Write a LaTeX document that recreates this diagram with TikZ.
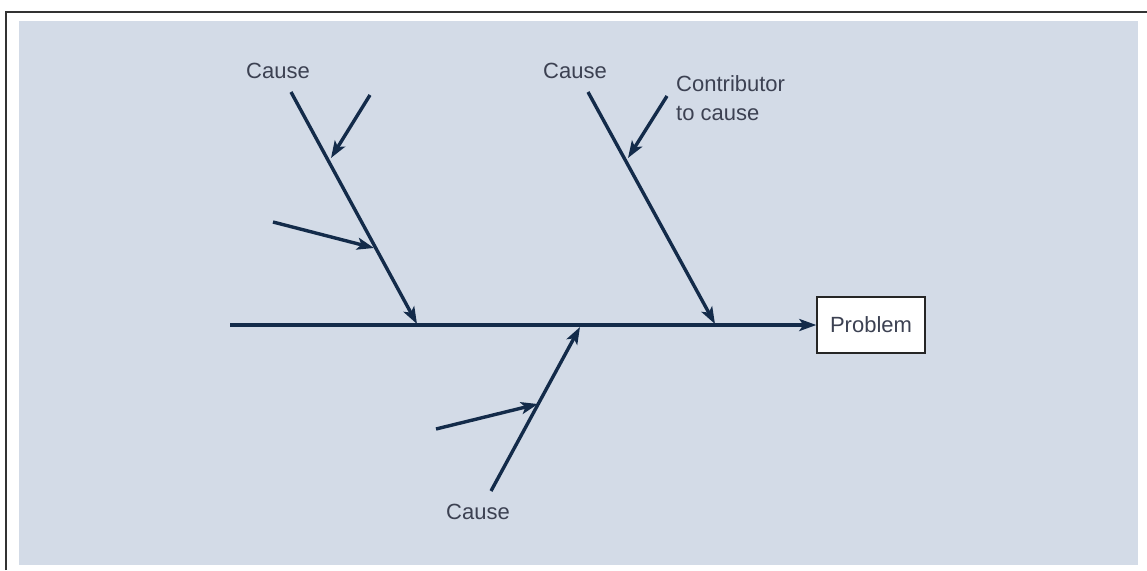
\documentclass[tikz,border=0pt]{standalone}
\usepackage{fontspec}
\setmainfont{Liberation Sans}
\usetikzlibrary{arrows.meta}
\definecolor{bgfill}{HTML}{D3DBE7}
\definecolor{navy}{HTML}{132B4A}
\definecolor{txt}{HTML}{3C4152}
\begin{document}
\begin{tikzpicture}[x=1pt,y=-1pt,
  bone/.style={draw=navy,line width=3.4pt,-{Stealth[length=17pt,width=12pt,inset=4pt]}},
  lbl/.style={text=txt,font=\fontsize{22}{29}\selectfont,inner sep=0pt}]
\useasboundingbox (0,0) rectangle (1147,570);
\fill[white] (0,0) rectangle (1147,570);
\draw[line width=1.6pt,black!80] (6,570) -- (6,12) -- (1147,12);
\fill[bgfill] (19,21) rectangle (1138,565);
% problem box
\node[draw=black!85,fill=white,line width=1.4pt,minimum width=108pt,minimum height=56pt,inner sep=0pt,
  text=txt,font=\fontsize{22}{29}\selectfont] (prob) at (871,325) {Problem};
% spine
\coordinate (tail) at (230,325);
\draw[bone] (tail) -- (prob.west);
% cause 1
\coordinate (c1s) at (291,92);
\coordinate (c1e) at (417,324);
\draw[bone] (c1s) -- (c1e);
\node[lbl] (c1l) at (278,71) {Cause};
\coordinate (k1s) at (370,95);
\coordinate (k1e) at (331,158);
\draw[bone] (k1s) -- (k1e);
\coordinate (k2s) at (273,222);
\coordinate (k2e) at (374,248);
\draw[bone] (k2s) -- (k2e);
% cause 2
\coordinate (c2s) at (588,92);
\coordinate (c2e) at (715,324);
\draw[bone] (c2s) -- (c2e);
\node[lbl] (c2l) at (575,71) {Cause};
\coordinate (k3s) at (667,96);
\coordinate (k3e) at (628,158);
\draw[bone] (k3s) -- (k3e);
\node[lbl,anchor=north west,align=left] (contrib) at (676,75) {Contributor\\to cause};
% cause 3
\coordinate (c3s) at (491,491);
\coordinate (c3e) at (580,327);
\draw[bone] (c3s) -- (c3e);
\node[lbl] (c3l) at (478,512) {Cause};
\coordinate (k4s) at (436,429);
\coordinate (k4e) at (538,404);
\draw[bone] (k4s) -- (k4e);
\end{tikzpicture}
\end{document}
